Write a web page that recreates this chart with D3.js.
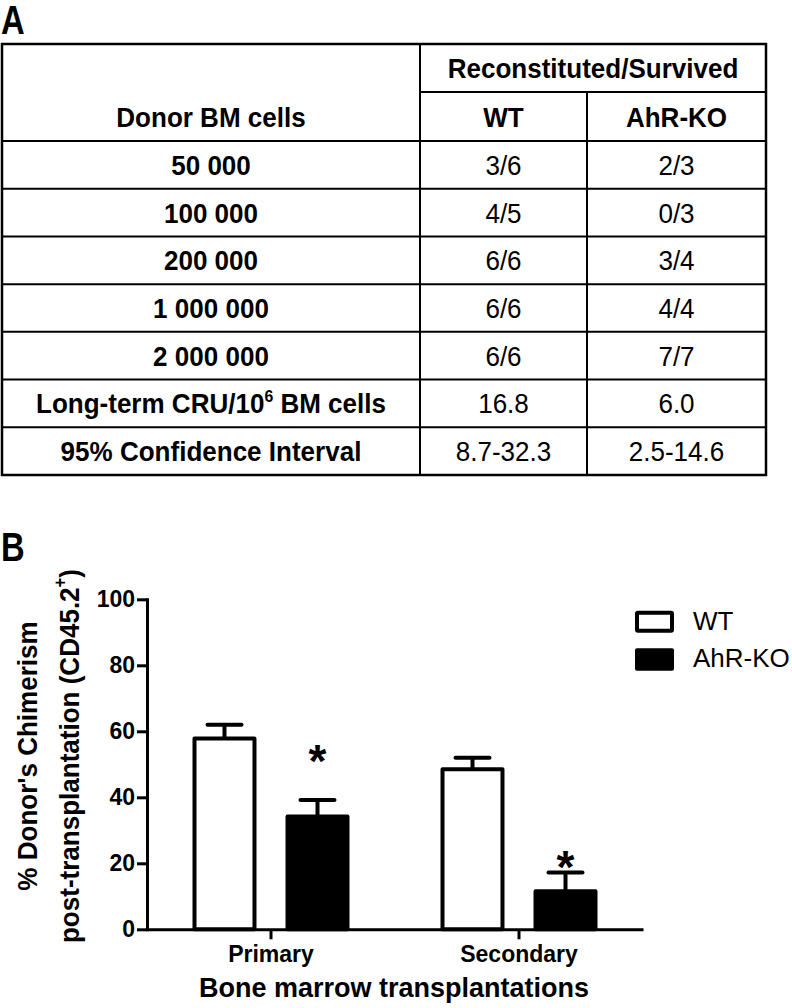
<!DOCTYPE html>
<meta charset="utf-8">
<style>
    body { margin: 0; background: #fff; }
    svg { font-family: "Liberation Sans", Arial, sans-serif; }
    .grid line { stroke: #000; stroke-width: 2; }
    .axis path, .axis line { stroke: #000; stroke-width: 3; }
    .axis text { font-size: 23px; font-weight: bold; fill: #000; }
</style>
<svg width="792" height="1008"></svg>
<script src="https://d3js.org/d3.v7.min.js"></script>
<script>

    // ---- panel A table ----
    var doses = ["50 000", "100 000", "200 000", "1 000 000", "2 000 000"];
    var wtRatio = ["3/6", "4/5", "6/6", "6/6", "6/6"];
    var koRatio = ["2/3", "0/3", "3/4", "4/4", "7/7"];
    var cruRow = ["16.8", "6.0"];
    var ciRow = ["8.7-32.3", "2.5-14.6"];

    // ---- panel B bars ----
    var transplants = ["Primary", "Secondary"];
    var genotypes = ["WT", "AhR-KO"];
    var meanWT = [57.8, 48.5];
    var semWT = [4.2, 3.5];
    var meanKO = [34.2, 11.5];
    var semKO = [5.0, 5.7];
    var starAt = [53, 21];   // where the * sits, in % units
    var yTicks = [0, 20, 40, 60, 80, 100];

    var svg = d3.select("svg");

    // panel letters (condensed bold)
    function letter(t, x, y) {
        svg.append("text")
            .attr("transform", "translate(" + x + "," + y + ") scale(0.8,1)")
            .attr("font-size", 41).attr("font-weight", "bold")
            .text(t);
    }
    letter("A", 1, 34);
    letter("B", 1, 561);

    // ---------------- table ----------------
    var tL = 2, tR = 766, cLab = 420, cWT = 587;
    var tTop = 44, tSub = 92, tHead = 141, tBot = 475;

    var rows = doses.map(function (d, i) {
        return {label: d, wt: wtRatio[i], ko: koRatio[i]};
    });
    rows.push({label: "Long-term CRU/10", sup: "6", tail: " BM cells", wt: cruRow[0], ko: cruRow[1]});
    rows.push({label: "95% Confidence Interval", wt: ciRow[0], ko: ciRow[1]});

    var ry = d3.scaleBand().domain(d3.range(rows.length)).range([tHead, tBot]);

    var grid = svg.append("g").attr("class", "grid");
    grid.append("rect")
        .attr("x", tL).attr("y", tTop).attr("width", tR - tL).attr("height", tBot - tTop)
        .attr("fill", "none").attr("stroke", "#000").attr("stroke-width", 2.5);
    grid.append("line").attr("x1", cLab).attr("x2", cLab).attr("y1", tTop).attr("y2", tBot);
    grid.append("line").attr("x1", cWT).attr("x2", cWT).attr("y1", tSub).attr("y2", tBot);
    grid.append("line").attr("x1", cLab).attr("x2", tR).attr("y1", tSub).attr("y2", tSub);
    grid.selectAll("line.row")
        .data(d3.range(rows.length))
        .enter().append("line")
        .attr("class", "row")
        .attr("x1", tL).attr("x2", tR)
        .attr("y1", function (i) { return ry(i); })
        .attr("y2", function (i) { return ry(i); });

    var colLab = (tL + cLab) / 2, colWT = (cLab + cWT) / 2, colKO = (cWT + tR) / 2;

    // table text is a little taller and narrower than plain Arial
    function cell(x, y, t, bold) {
        return svg.append("text")
            .attr("transform", "translate(" + x + "," + (y + 10) + ") scale(0.93,1)")
            .attr("text-anchor", "middle")
            .attr("font-size", 28)
            .attr("font-weight", bold ? "bold" : "normal")
            .text(t);
    }

    cell((cLab + tR) / 2, (tTop + tSub) / 2, "Reconstituted/Survived", true);
    cell(colLab, (tSub + tHead) / 2, "Donor BM cells", true);
    cell(colWT, (tSub + tHead) / 2, genotypes[0], true);
    cell(colKO, (tSub + tHead) / 2, genotypes[1], true);

    rows.forEach(function (r, i) {
        var yc = ry(i) + ry.bandwidth() / 2;
        var lab = cell(colLab, yc, r.label, true);
        if (r.sup) {
            lab.append("tspan").attr("font-size", 17).attr("dy", -11).text(r.sup);
            lab.append("tspan").attr("dy", 11).text(r.tail);
        }
        cell(colWT, yc, r.wt, false);
        cell(colKO, yc, r.ko, false);
    });

    // ---------------- bar chart ----------------
    var y = d3.scaleLinear().domain([0, 100]).range([929.3, 599.3]);
    var x0 = d3.scaleBand().domain(transplants).range([147, 643]);
    var x1 = d3.scaleBand().domain(genotypes).range([-78.5, 78.5]).paddingInner(0.312);

    var g = svg.append("g");

    g.append("g")
        .attr("class", "axis")
        .attr("transform", "translate(147,0)")
        .call(d3.axisLeft(y).tickValues(yTicks).tickSize(10).tickSizeOuter(0).tickPadding(2))
        .select(".domain").attr("stroke-linecap", "square");

    g.append("g")
        .attr("class", "axis")
        .attr("transform", "translate(0," + y(0) + ")")
        .call(d3.axisBottom(x0).tickSize(10).tickSizeOuter(0).tickPadding(6))
        .selectAll("text").attr("font-size", 24);

    var bars = [];
    transplants.forEach(function (t, i) {
        bars.push({grp: t, gen: "WT", mean: meanWT[i], sem: semWT[i]});
        bars.push({grp: t, gen: "AhR-KO", mean: meanKO[i], sem: semKO[i], star: starAt[i]});
    });

    function cx(d) {
        return x0(d.grp) + x0.bandwidth() / 2 + x1(d.gen) + x1.bandwidth() / 2;
    }

    // error bars first, bars painted over the stem
    g.selectAll("line.err")
        .data(bars).enter().append("line")
        .attr("class", "err")
        .attr("x1", cx).attr("x2", cx)
        .attr("y1", function (d) { return y(d.mean); })
        .attr("y2", function (d) { return y(d.mean + d.sem); })
        .attr("stroke", "#000").attr("stroke-width", 4);
    g.selectAll("line.cap")
        .data(bars).enter().append("line")
        .attr("class", "cap")
        .attr("x1", function (d) { return cx(d) - 17; })
        .attr("x2", function (d) { return cx(d) + 17; })
        .attr("y1", function (d) { return y(d.mean + d.sem); })
        .attr("y2", function (d) { return y(d.mean + d.sem); })
        .attr("stroke", "#000").attr("stroke-width", 4).attr("stroke-linecap", "round");

    g.selectAll("rect.bar")
        .data(bars).enter().append("rect")
        .attr("class", "bar")
        .attr("x", function (d) { return cx(d) - x1.bandwidth() / 2 + 2; })
        .attr("width", x1.bandwidth() - 4)
        .attr("y", function (d) { return y(d.mean); })
        .attr("height", function (d) { return y(0) - y(d.mean); })
        .attr("fill", function (d) { return d.gen === "WT" ? "#fff" : "#000"; })
        .attr("stroke", "#000").attr("stroke-width", 4).attr("stroke-linejoin", "round");

    g.selectAll("text.star")
        .data(bars.filter(function (d) { return d.star != null; }))
        .enter().append("text")
        .attr("class", "star")
        .attr("x", cx)
        .attr("y", function (d) { return y(d.star) + 23; })
        .attr("text-anchor", "middle")
        .attr("font-size", 46).attr("font-weight", "bold")
        .text("*");

    // axis titles
    var yt = svg.append("g").attr("transform", "translate(0,756) rotate(-90)")
        .attr("text-anchor", "middle").attr("font-weight", "bold");
    yt.append("text").attr("transform", "translate(0,37) scale(0.93,1)")
        .attr("font-size", 28).text("% Donor's Chimerism");
    var l2 = yt.append("text").attr("transform", "translate(0,79) scale(0.93,1)")
        .attr("font-size", 28).text("post-transplantation (CD45.2");
    l2.append("tspan").attr("font-size", 18).attr("dy", -13).text("+");
    l2.append("tspan").attr("dy", 13).text(")");

    svg.append("text")
        .attr("x", 394).attr("y", 997)
        .attr("text-anchor", "middle")
        .attr("font-size", 27).attr("font-weight", "bold")
        .text("Bone marrow transplantations");

    // legend
    var leg = svg.append("g").attr("font-size", 26);
    leg.append("rect").attr("x", 637).attr("y", 612.7).attr("width", 35).attr("height", 18)
        .attr("fill", "#fff").attr("stroke", "#000").attr("stroke-width", 4).attr("rx", 1);
    leg.append("rect").attr("x", 635).attr("y", 648.3).attr("width", 39).attr("height", 22.4)
        .attr("fill", "#000").attr("rx", 2);
    leg.append("text").attr("x", 693).attr("y", 629.5).text(genotypes[0]);
    leg.append("text").attr("x", 693).attr("y", 667).text(genotypes[1]);

</script>
